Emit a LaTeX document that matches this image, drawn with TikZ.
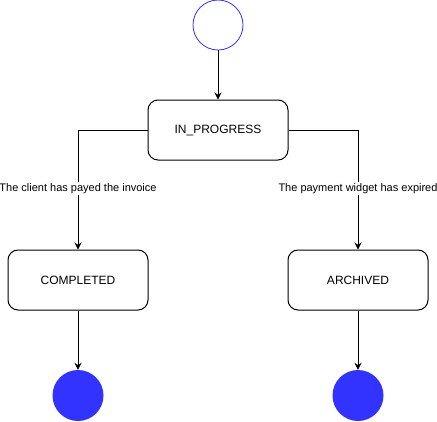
\documentclass[tikz,border=0pt]{standalone}
\usepackage{fontspec}
\setmainfont{Liberation Sans}
\usetikzlibrary{arrows.meta}
\definecolor{stblue}{RGB}{51,51,255}
\begin{document}
\begin{tikzpicture}[x=1pt,y=-1pt,
  state/.style={draw=black, line width=1pt, rounded corners=10pt, fill=white,
    minimum width=140pt, minimum height=60pt, inner sep=0pt, font=\fontsize{12}{14}\selectfont},
  startst/.style={circle, draw=stblue, line width=0.8pt, fill=white, minimum size=50pt, inner sep=0pt},
  endst/.style={circle, fill=stblue, minimum size=51pt, inner sep=0pt},
  conn/.style={draw=black, line width=1pt, -{Stealth[length=7pt,width=7pt]}},
  elabel/.style={fill=white, inner sep=1pt, font=\fontsize{11}{13}\selectfont}]
\useasboundingbox (0,0) rectangle (437,421);
\node[startst] (start) at (218,25) {};
\node[state] (prog) at (218,130) {IN\_PROGRESS};
\node[state] (comp) at (78,280) {COMPLETED};
\node[state] (arch) at (358,280) {ARCHIVED};
\node[endst] (end1) at (78,395.5) {};
\node[endst] (end2) at (358,395.5) {};
\draw[conn] (start) -- (prog);
\draw[conn] (prog.west) -| (comp.north) node[pos=0.745, elabel] {The client has payed the invoice};
\draw[conn] (prog.east) -| (arch.north) node[pos=0.745, elabel] {The payment widget has expired};
\draw[conn] (comp) -- (end1);
\draw[conn] (arch) -- (end2);
\end{tikzpicture}
\end{document}
